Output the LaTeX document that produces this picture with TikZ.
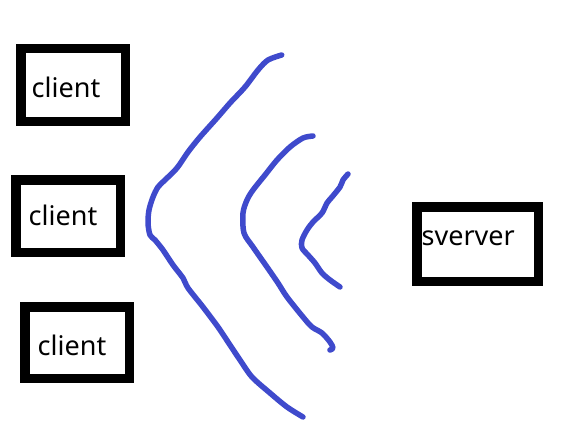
\documentclass[tikz,border=0pt]{standalone}
\usepackage{fontspec}
\setmainfont{Noto Sans}
\definecolor{SketchInk}{HTML}{000000}
\definecolor{SketchWave}{HTML}{3F4ACC}
\tikzset{
  box/.style={draw=SketchInk,line width=9.5pt,inner sep=0pt},
  lbl/.style={anchor=base west,inner sep=0pt,font=\fontsize{27}{30}\selectfont},
  wave/.style={SketchWave,line width=5.5pt,line cap=round,line join=round}
}

\begin{document}
\begin{tikzpicture}[x=1pt,y=-1pt]
      \useasboundingbox (0,0) rectangle (573,428);
      % clients
      \node[box,minimum width=104.5pt,minimum height=72.5pt] (client1) at (73,85) {};
      \node[lbl] (client1txt) at (31.5,97) {client};
      \node[box,minimum width=104.5pt,minimum height=72.5pt] (client2) at (68,216) {};
      \node[lbl] (client2txt) at (28.5,225) {client};
      \node[box,minimum width=104.5pt,minimum height=71.5pt] (client3) at (77,342.5) {};
      \node[lbl] (client3txt) at (37.5,355) {client};
      % server
      \node[box,minimum width=121.5pt,minimum height=74.5pt] (server) at (477.5,244) {};
      \node[lbl] (servertxt) at (421.5,245) {sverver};
      % waves
      \draw[wave] plot[smooth,tension=0.5] coordinates {(281.7,55) (268,60) (258,70) (245,87) (230,103) (217,118) (200,137) (188,152) (177,168) (165,180) (158,187) (153,197) (149,210) (148,223) (150,235) (155,240) (163,250) (173,265) (183,278) (188,288) (203,307) (218,327) (230,345) (240,360) (252,377) (270,393) (287,407) (303,417)};
      \draw[wave] plot[smooth,tension=0.5] coordinates {(313,136) (303,138) (290,147) (277,160) (265,175) (253,190) (247,200) (243,213) (244,233) (253,247) (267,267) (278,283) (287,297) (303,317) (312,327) (322,333) (330,342) (333,348) (330,350)};
      \draw[wave] plot[smooth,tension=0.5] coordinates {(348,174) (343,180) (340,187) (332,197) (327,203) (322,213) (313,222) (307,230) (302,240) (302,248) (308,255) (315,263) (322,273) (330,280) (340,287)};
    \end{tikzpicture}
\end{document}
